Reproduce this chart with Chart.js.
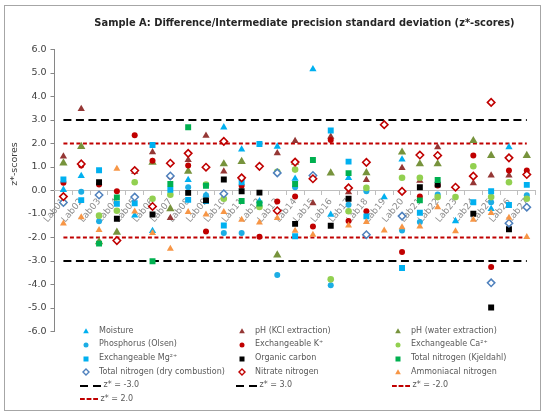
<!DOCTYPE html>
<html><head><meta charset="utf-8">
<script src="https://cdn.jsdelivr.net/npm/chart.js@4.4.1/dist/chart.umd.min.js"></script>
<style>
html,body{margin:0;padding:0;background:#fff;}
#wrap{position:relative;width:550px;height:419px;overflow:hidden;font-family:"DejaVu Sans",Verdana,sans-serif;}
#c{position:absolute;left:0;top:0;}
#frame{position:absolute;left:4px;top:5px;width:535px;height:404px;border:1px solid #a6a6a6;pointer-events:none;}
#title{position:absolute;left:304.5px;top:17px;transform:translateX(-50%);font-weight:bold;font-size:9.9px;color:#262626;white-space:nowrap;}
#ytitle{position:absolute;left:12.5px;top:164px;transform:translate(-50%,-50%) rotate(-90deg);font-size:9.5px;color:#404040;white-space:nowrap;line-height:11px;}
.lg{position:absolute;font-size:8px;color:#595959;white-space:nowrap;line-height:10px;}
.lgm{position:absolute;line-height:0;font-size:0;}
.lgm svg{display:block;}
</style></head>
<body>
<div id="wrap">
<canvas id="c" width="550" height="419"></canvas>
<div id="frame"></div>
<div id="title">Sample A: Difference/Intermediate precision standard deviation (z*-scores)</div>
<div id="ytitle">z*-scores</div>
<div id="legend"></div>
</div>
<script>
const labs = ['Lab01','Lab02','Lab03','Lab04','Lab05','Lab06','Lab07','Lab08','Lab09','Lab10','Lab11','Lab12','Lab13','Lab14','Lab15','Lab16','Lab17','Lab18','Lab19','Lab20','Lab21','Lab22','Lab23','Lab24','Lab25','Lab26','Lab27'];
const yTicks = [6,5,4,3,2,1,0,-1,-2,-3,-4,-5,-6];

const moisture    = [0.03,0.62,null,null,-1.06,-1.72,null,0.45,-0.2,2.69,1.75,-0.45,1.87,0.5,5.16,-1.03,0.54,null,-0.28,1.32,null,null,-1.3,null,-0.78,1.84,null];
const phKCl       = [1.45,3.47,null,null,0.8,1.63,-1.17,1.3,2.33,0.81,null,null,1.59,2.11,-0.54,2.29,-0.07,0.45,null,0.96,0.42,1.84,null,0.31,0.64,0.64,null];
const phWater     = [1.17,1.87,-2.18,-1.78,null,1.2,-0.78,0.82,null,1.13,1.23,null,-2.75,1.2,null,0.74,null,0.75,null,1.63,1.13,1.13,null,2.12,1.49,null,1.49];
const phosphorus  = [null,-0.05,-1.31,null,null,null,null,0.14,-0.2,-1.81,-1.81,null,-3.6,0.14,null,-4.03,-0.61,-0.03,null,-1.7,-1.34,-0.17,null,null,-0.5,null,-0.2];
const exchK       = [0.33,1.06,0.26,-0.03,2.35,1.27,0.6,1.06,-1.74,null,0.2,-1.97,-0.47,-0.26,-1.53,2.15,-1.3,-0.88,null,-2.62,-0.25,0.21,null,1.49,-3.25,0.85,0.85];
const exchCa      = [-0.51,null,-1.07,-0.86,0.35,-0.35,-0.18,null,0.25,-0.35,null,-0.7,0.8,0.89,null,-3.78,-0.88,0.11,null,0.54,0.54,-0.28,-0.28,1.03,-0.28,0.35,-0.35];
const exchMg      = [0.47,-0.41,0.86,-0.57,-0.54,1.94,0.03,-0.4,-0.45,-1.49,0.35,1.98,null,-1.95,null,2.55,1.23,-1.1,null,-3.3,-0.95,null,null,-0.5,-0.03,-0.62,0.24];
const orgCarbon   = [null,null,0.35,-1.2,null,-1.02,null,-0.1,-0.42,0.47,-0.03,-0.09,null,-1.42,null,-1.5,-0.35,null,null,null,0.14,0.25,null,-0.99,-4.98,-1.65,null];
const tnKjeldahl  = [null,null,-2.26,-0.3,null,-3.01,0.28,2.69,0.2,null,-0.45,-0.55,null,0.28,1.3,null,0.74,null,null,null,-0.42,0.45,null,null,null,null,null];
const tnDry       = [-0.51,null,-0.19,null,-0.28,null,0.62,null,null,-0.14,null,null,0.75,null,0.64,null,null,-1.88,null,-1.09,null,null,null,null,-3.93,-1.39,-0.71];
const nitrateN    = [-0.26,1.13,null,-2.13,0.85,-0.68,1.16,1.58,0.99,2.09,0.54,1.03,-0.86,1.21,0.5,null,0.11,1.2,2.8,-0.04,1.51,1.49,0.14,0.61,3.75,1.39,0.68];
const ammoniacalN = [-1.4,-1.14,-1.68,0.93,-0.89,-1.81,-2.48,-0.92,-1.02,-0.92,-1.24,-1.36,-1.17,-1.71,-1.88,null,-1.49,-1.34,-1.7,-1.56,-1.53,-0.71,-1.73,-1.24,-0.96,-1.16,-1.98];

const seriesNames = ['Moisture','pH (KCl extraction)','pH (water extraction)','Phosphorus (Olsen)','Exchangeable K\u207A','Exchangeable Ca\u00B2\u207A','Exchangeable Mg\u00B2\u207A','Organic carbon','Total nitrogen (Kjeldahl)','Total nitrogen (dry combustion)','Nitrate nitrogen','Ammoniacal nitrogen'];
const seriesData = [moisture,phKCl,phWater,phosphorus,exchK,exchCa,exchMg,orgCarbon,tnKjeldahl,tnDry,nitrateN,ammoniacalN];

const zLevels = [-3, 3, -2, 2];
const zNames = ['z* = -3.0','z* = 3.0','z* = -2.0','z* = 2.0'];

// styles
const markerStyles = [
  {shape:'triangle', fill:'#00B0F0', stroke:'#00B0F0', r:4.2, bw:0},
  {shape:'triangle', fill:'#953735', stroke:'#953735', r:4.2, bw:0},
  {shape:'triangle', fill:'#77933C', stroke:'#77933C', r:4.8, bw:0},
  {shape:'circle',   fill:'#1CADE4', stroke:'#1CADE4', r:3, bw:0},
  {shape:'circle',   fill:'#C00000', stroke:'#C00000', r:3, bw:0},
  {shape:'circle',   fill:'#92D050', stroke:'#92D050', r:3.3, bw:0},
  {shape:'rect',     fill:'#00B0F0', stroke:'#00B0F0', r:4.2, bw:0},
  {shape:'rect',     fill:'#000000', stroke:'#000000', r:4.2, bw:0},
  {shape:'rect',     fill:'#00B050', stroke:'#00B050', r:4.2, bw:0},
  {shape:'rectRot',  fill:'#FFFFFF', stroke:'#4F81BD', r:3.7, bw:1.5},
  {shape:'rectRot',  fill:'#FFFFFF', stroke:'#C00000', r:3.7, bw:1.6},
  {shape:'triangle', fill:'#F79646', stroke:'#F79646', r:4, bw:0}
];
const lineStyles = [
  {color:'#000000', dash:[8,4.5], legendDash:[8,5], legendLen:22, textOff:17.5},
  {color:'#000000', dash:[8,4.5], legendDash:[8,5], legendLen:22, textOff:17.5},
  {color:'#C00000', dash:[4,2.5], legendDash:[4.8,1.8], legendLen:19, textOff:14.5},
  {color:'#C00000', dash:[4,2.5], legendDash:[4.8,1.8], legendLen:19, textOff:14.5}
];

const datasets = [];
seriesData.forEach((arr, i) => {
  const s = markerStyles[i];
  datasets.push({
    label: seriesNames[i], data: arr, showLine:false, order: -i,
    pointStyle: s.shape, pointRadius: s.r, pointHoverRadius: s.r,
    backgroundColor: s.fill, borderColor: s.stroke, pointBorderWidth: s.bw, borderWidth: s.bw
  });
});
zLevels.forEach((z, i) => {
  const s = lineStyles[i];
  datasets.push({
    label: zNames[i], data: [{x: labs[0], y: z}, {x: labs[labs.length-1], y: z}],
    showLine:true, pointRadius:0, borderColor:s.color, borderWidth:2, borderDash:s.dash,
    fill:false, order: 100, tension:0
  });
});

const FONT = '"DejaVu Sans", Verdana, sans-serif';
new Chart(document.getElementById('c'), {
  type: 'line',
  data: { labels: labs, datasets },
  options: {
    responsive:false, animation:false, devicePixelRatio:1,
    layout:{padding:{top:49.5,right:14.3,bottom:87.5,left:0}},
    plugins:{legend:{display:false}, title:{display:false}, tooltip:{enabled:false}},
    scales:{
      y:{
        min:-6, max:6,
        afterFit: s => { s.width = 54.5; },
        afterBuildTicks: s => { s.ticks = yTicks.map(v => ({value:v})); },
        ticks:{ callback: v => Number(v).toFixed(1), font:{family:FONT,size:9.5}, color:'#404040', padding:4 },
        grid:{ drawOnChartArea:false, drawTicks:true, tickLength:4, color:'#868686' },
        border:{ color:'#868686' },
        title:{ display:false }
      },
      x:{
        type:'category', position:{y:0}, offset:true,
        ticks:{ autoSkip:false, minRotation:50, maxRotation:50, font:{family:FONT,size:9}, color:'#8c8c8c', padding:2 },
        grid:{ drawOnChartArea:false, drawTicks:true, tickLength:4, offset:true, color:'#BFBFBF' },
        border:{ color:'#BFBFBF' }
      }
    }
  }
});

// HTML legend
const legendCols = [86, 242, 398];
const legendRowY = [331.3, 344.9, 358.5, 372.1, 385.7, 399.3];
const lg = document.getElementById('legend');
function markerSVG(s){
  let inner = '';
  if (s.shape === 'triangle') inner = `<polygon points="5,2.2 7.8,7.2 2.2,7.2" fill="${s.fill}"/>`;
  else if (s.shape === 'circle') inner = `<circle cx="5" cy="5" r="2.5" fill="${s.fill}"/>`;
  else if (s.shape === 'rect') inner = `<rect x="2.5" y="2.5" width="5" height="5" fill="${s.fill}"/>`;
  else inner = `<polygon points="5,2 8,5 5,8 2,5" fill="#fff" stroke="${s.stroke}" stroke-width="1.4"/>`;
  return `<svg width="10" height="10">${inner}</svg>`;
}
function lineSVG(s){
  return `<svg width="${s.legendLen}" height="6"><line x1="0" y1="3" x2="${s.legendLen}" y2="3" stroke="${s.color}" stroke-width="2" stroke-dasharray="${s.legendDash.join(',')}"/></svg>`;
}
let html = '';
seriesNames.forEach((name, i) => {
  const cx = legendCols[i % 3], cy = legendRowY[Math.floor(i / 3)];
  html += `<div class="lgm" style="left:${cx-5}px;top:${cy-5}px">${markerSVG(markerStyles[i])}</div>`;
  html += `<div class="lg" style="left:${cx+13}px;top:${cy-5.5}px">${name}</div>`;
});
zNames.forEach((name, j) => {
  const i = seriesNames.length + j;
  const s = lineStyles[j];
  const cx = legendCols[i % 3], cy = legendRowY[Math.floor(i / 3)];
  html += `<div class="lgm" style="left:${cx-6}px;top:${cy-3}px">${lineSVG(s)}</div>`;
  html += `<div class="lg" style="left:${cx+s.textOff}px;top:${cy-5.5}px">${name}</div>`;
});
lg.innerHTML = html;
</script>
</body></html>
